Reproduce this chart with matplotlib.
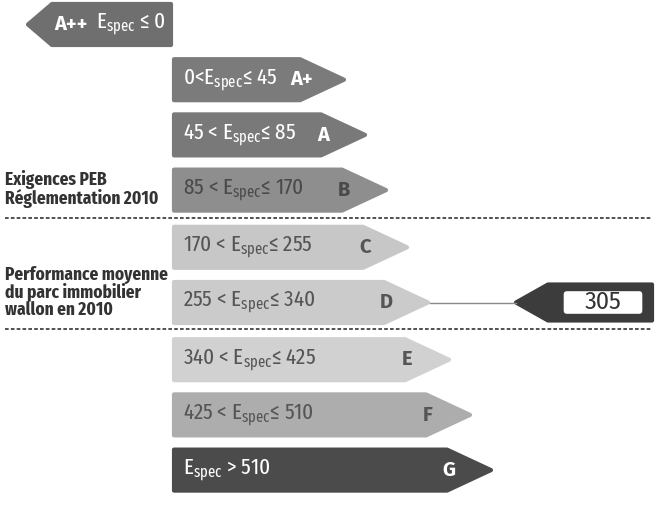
import matplotlib
matplotlib.use('agg')
import matplotlib.pyplot as plt
from matplotlib.patches import Polygon, FancyBboxPatch

COND = ['Fira Sans Extra Condensed', 'Liberation Sans', 'DejaVu Sans']
BOLD = ['Fira Sans', 'Liberation Sans', 'DejaVu Sans']
plt.rcParams['font.family'] = COND
plt.rcParams['mathtext.fontset'] = 'custom'
plt.rcParams['mathtext.rm'] = 'Fira Sans Extra Condensed'
plt.rcParams['mathtext.it'] = 'Fira Sans Extra Condensed'

# classes énergétiques PEB (Espec en kWh/m².an)
classes = ['A++', 'A+', 'A', 'B', 'C', 'D', 'E', 'F', 'G']
lower = [None, 0, 45, 85, 170, 255, 340, 425, 510]
upper = [0, 45, 85, 170, 255, 340, 425, 510, None]
shades = ['#6f6f6f', '#7b7b7b', '#797979', '#8e8e8e', '#c7c7c7',
          '#cbcbcb', '#d1d1d1', '#adadad', '#4b4b4b']
text_colors = ['white', 'white', 'white', '#4a4a4a', '#555555',
               '#555555', '#555555', '#555555', 'white']
value = 305
notes = ['Exigences PEB\nRéglementation 2010',
         'Performance moyenne\ndu parc immobilier\nwallon en 2010']

ES = r'E$_{\mathrm{spec}}$'


def range_label(lo, hi):
    if lo is None:
        return f'{ES} ≤ 0'
    if hi is None:
        return f'{ES} > {lo}'
    if lo == 0:
        return f'{lo}<{ES}≤ {hi}'
    return f'{lo} < {ES}≤ {hi}'


fig = plt.figure(figsize=(6.71, 5.07), dpi=100)
ax = fig.add_axes([0, 0, 1, 1])
ax.set_xlim(0, 671)
ax.set_ylim(507, 0)
ax.axis('off')

row_h = 41
left = 174
tip = 44
tips = []
for i, (c, col, tc) in enumerate(zip(classes, shades, text_colors)):
    top = 4 + 55.2 * i + (2 if i >= 4 else 0) + (2 if i >= 6 else 0)
    bot = top + row_h
    mid = (top + bot) / 2
    if i == 0:
        # flèche vers la gauche
        pts = [(28, mid), (52, top), (171, top), (171, bot), (52, bot)]
        ax.add_patch(Polygon(pts, closed=True, fc=col, ec=col, lw=3, joinstyle='round'))
        ax.text(54, mid, c, color=tc, fontsize=14.5, fontweight='bold',
                family=BOLD, va='center', ha='left')
        ax.text(96, mid, range_label(lower[i], upper[i]), color=tc,
                fontsize=16.5, va='center', ha='left')
        tips.append(28)
        continue
    right = 300 + 21 * (i - 1)
    pts = [(left, top), (right, top), (right + tip, mid), (right, bot), (left, bot)]
    ax.add_patch(Polygon(pts, closed=True, fc=col, ec=col, lw=3, joinstyle='round'))
    ax.text(left + 9, mid, range_label(lower[i], upper[i]), color=tc,
            fontsize=16.5, va='center', ha='left')
    ax.text(right + 2, mid, c, color=tc, fontsize=14.5, fontweight='bold',
            family=BOLD, va='center', ha='center')
    tips.append((right + tip, mid))

# séparateurs pointillés
for y in (218, 329):
    ax.plot([5, 652], [y, y], color='#333333', lw=1.2, ls=(0, (2.2, 1.3)))

# notes à gauche
ax.text(5, 189, notes[0], color='#333333', fontsize=13.5, fontweight='bold',
        va='center', ha='left', linespacing=1.0)
ax.text(5, 292, notes[1], color='#333333', fontsize=13.5, fontweight='bold',
        va='center', ha='left', linespacing=0.95)

# indicateur de la valeur moyenne
row = next(i for i in range(1, len(classes))
           if value > lower[i] and (upper[i] is None or value <= upper[i]))
tx, ty = tips[row]
mx = 516
ax.plot([tx + 2, mx], [ty, ty], color='#8a8a8a', lw=1)
mk = [(mx, ty), (mx + 32, ty - 18), (652, ty - 18), (652, ty + 18), (mx + 32, ty + 18)]
ax.add_patch(Polygon(mk, closed=True, fc='#3c3c3c', ec='#3c3c3c', lw=3, joinstyle='round'))
ax.add_patch(FancyBboxPatch((563, ty - 12), 80, 24, boxstyle='round,pad=0,rounding_size=4',
                            fc='white', ec='#3c3c3c', lw=1))
ax.text(603, ty, str(value), color='#333333', fontsize=17, family=BOLD,
        va='center', ha='center')

fig.savefig('out.png', dpi=100, facecolor='white')
